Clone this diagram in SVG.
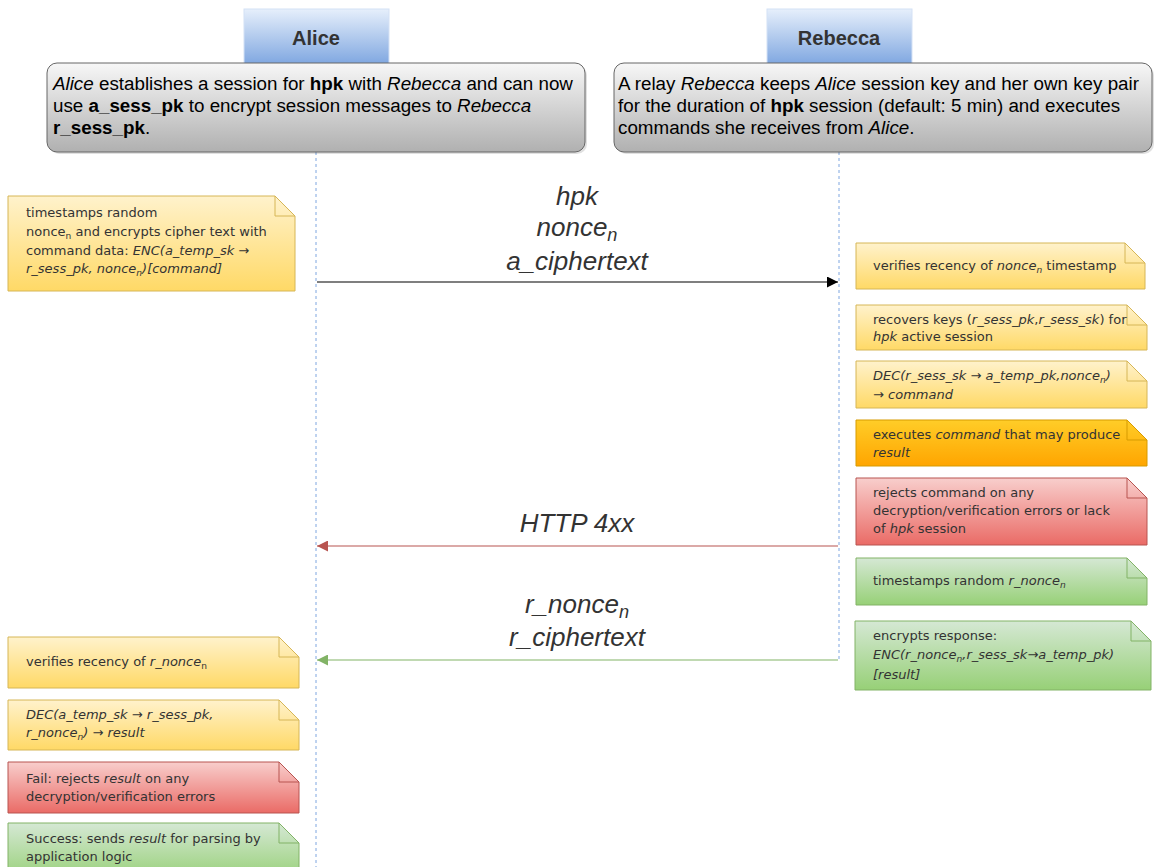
<svg xmlns="http://www.w3.org/2000/svg" width="1157" height="867" viewBox="0 0 1157 867">
<defs>
<linearGradient id="gBlue" x1="0" y1="0" x2="0" y2="1"><stop offset="0" stop-color="#e6effb"/><stop offset="1" stop-color="#7ea6e0"/></linearGradient>
<linearGradient id="gGrey" x1="0" y1="0" x2="0" y2="1"><stop offset="0" stop-color="#f7f7f7"/><stop offset="1" stop-color="#b0b0b0"/></linearGradient>
<linearGradient id="gYel" x1="0" y1="0" x2="0" y2="1"><stop offset="0" stop-color="#fff2cc"/><stop offset="1" stop-color="#ffd966"/></linearGradient>
<linearGradient id="gOra" x1="0" y1="0" x2="0" y2="1"><stop offset="0" stop-color="#ffcd28"/><stop offset="1" stop-color="#ffa500"/></linearGradient>
<linearGradient id="gRed" x1="0" y1="0" x2="0" y2="1"><stop offset="0" stop-color="#f8cecc"/><stop offset="1" stop-color="#ea6b66"/></linearGradient>
<linearGradient id="gGrn" x1="0" y1="0" x2="0" y2="1"><stop offset="0" stop-color="#d5e8d4"/><stop offset="1" stop-color="#97d077"/></linearGradient>
<marker id="mBlack" viewBox="0 0 10 10" refX="10" refY="5" markerWidth="11" markerHeight="11" markerUnits="userSpaceOnUse" orient="auto"><path d="M0,0 L10,5 L0,10 Z" fill="#000"/></marker>
<marker id="mRed" viewBox="0 0 10 10" refX="10" refY="5" markerWidth="11" markerHeight="11" markerUnits="userSpaceOnUse" orient="auto"><path d="M0,0 L10,5 L0,10 Z" fill="#b85450"/></marker>
<marker id="mGrn" viewBox="0 0 10 10" refX="10" refY="5" markerWidth="11" markerHeight="11" markerUnits="userSpaceOnUse" orient="auto"><path d="M0,0 L10,5 L0,10 Z" fill="#82b366"/></marker>
</defs>
<style>
.hdr{font-family:"Liberation Sans",Arial,sans-serif;font-size:20px;font-weight:bold;fill:#333;text-anchor:middle}
.desc{font-family:"Liberation Sans",Arial,sans-serif;font-size:18.8px;fill:#000}
.note{font-family:"DejaVu Sans","Noto Sans",sans-serif;font-size:13px;fill:#333}
.lbl{font-family:"Liberation Sans",Arial,sans-serif;font-size:26px;font-style:italic;fill:#333;text-anchor:middle}
.i{font-style:italic}
.b{font-weight:bold}
.sub{font-size:70%}
.life{stroke:#7ea6e0;stroke-width:1;stroke-dasharray:3 3;fill:none}
.yel{fill:url(#gYel);stroke:#d6b656}
.ora{fill:url(#gOra);stroke:#d79b00}
.red{fill:url(#gRed);stroke:#b85450}
.grn{fill:url(#gGrn);stroke:#82b366}
.fold{fill:none}
</style>
<rect width="1157" height="867" fill="#fff"/>

<g id="lifelines">
<line class="life" x1="316" y1="152" x2="316" y2="867"/>
<line class="life" x1="839" y1="152" x2="839" y2="660"/>
</g>

<g id="alice-header">
<rect x="244" y="9" width="145" height="56" fill="url(#gBlue)" stroke="#d4e1f5"/>
<text class="hdr" x="316" y="45">Alice</text>
</g>
<g id="rebecca-header">
<rect x="767" y="9" width="145" height="56" fill="url(#gBlue)" stroke="#d4e1f5"/>
<text class="hdr" x="839" y="45">Rebecca</text>
</g>

<g id="alice-desc">
<rect x="49" y="65" width="538" height="89" rx="10" fill="#000" opacity="0.12"/>
<rect x="47" y="63" width="538" height="89" rx="10" fill="url(#gGrey)" stroke="#666"/>
<text class="desc" x="53" y="90"><tspan class="i">Alice</tspan> establishes a session for <tspan class="b">hpk</tspan> with <tspan class="i">Rebecca</tspan> and can now</text>
<text class="desc" x="53" y="112">use <tspan class="b">a_sess_pk</tspan> to encrypt session messages to <tspan class="i">Rebecca</tspan></text>
<text class="desc" x="53" y="134"><tspan class="b">r_sess_pk</tspan>.</text>
</g>
<g id="rebecca-desc">
<rect x="616" y="65" width="538" height="89" rx="10" fill="#000" opacity="0.12"/>
<rect x="614" y="63" width="538" height="89" rx="10" fill="url(#gGrey)" stroke="#666"/>
<text class="desc" x="618" y="90">A relay <tspan class="i">Rebecca</tspan> keeps <tspan class="i">Alice</tspan> session key and her own key pair</text>
<text class="desc" x="618" y="112">for the duration of <tspan class="b">hpk</tspan> session (default: 5 min) and executes</text>
<text class="desc" x="618" y="134">commands she receives from <tspan class="i">Alice</tspan>.</text>
</g>

<g id="connectors">
<line x1="317" y1="282" x2="838" y2="282" stroke="#000" stroke-width="1.2" marker-end="url(#mBlack)"/>
<text class="lbl" x="577" y="205">hpk</text>
<text class="lbl" x="577" y="236">nonce<tspan class="sub" dy="5">n</tspan></text>
<text class="lbl" x="577" y="270">a_ciphertext</text>
<line x1="838" y1="546" x2="317" y2="546" stroke="#b85450" stroke-width="1.2" marker-end="url(#mRed)"/>
<text class="lbl" x="577" y="532">HTTP 4xx</text>
<line x1="838" y1="660" x2="317" y2="660" stroke="#82b366" stroke-width="1.2" marker-end="url(#mGrn)"/>
<text class="lbl" x="577" y="613">r_nonce<tspan class="sub" dy="5">n</tspan></text>
<text class="lbl" x="577" y="646">r_ciphertext</text>
</g>

<g id="note-a1">
<path class="yel" d="M8,196 H275 L295,216 V291 H8 Z"/>
<path class="yel fold" d="M275,196 V216 H295"/>
<text class="note" x="26" y="217">timestamps random</text>
<text class="note" x="26" y="236">nonce<tspan class="sub" dy="3">n</tspan><tspan dy="-3"> and encrypts cipher text with</tspan></text>
<text class="note" x="26" y="255">command data: <tspan class="i">ENC(a_temp_sk →</tspan></text>
<text class="note i" x="26" y="273">r_sess_pk, nonce<tspan class="sub" dy="3">n</tspan><tspan dy="-3">)[command]</tspan></text>
</g>

<g id="note-r1">
<path class="yel" d="M856,243 H1125 L1145,263 V289 H856 Z"/>
<path class="yel fold" d="M1125,243 V263 H1145"/>
<text class="note" x="873" y="270">verifies recency of <tspan class="i">nonce</tspan><tspan class="sub i" dy="3">n</tspan><tspan dy="-3"> timestamp</tspan></text>
</g>
<g id="note-r2">
<path class="yel" d="M856,305 H1127 L1147,325 V350 H856 Z"/>
<path class="yel fold" d="M1127,305 V325 H1147"/>
<text class="note" x="873" y="324">recovers keys (<tspan class="i">r_sess_pk</tspan>,<tspan class="i">r_sess_sk</tspan>) for</text>
<text class="note" x="873" y="341"><tspan class="i">hpk</tspan> active session</text>
</g>
<g id="note-r3">
<path class="yel" d="M856,361 H1127 L1147,381 V408 H856 Z"/>
<path class="yel fold" d="M1127,361 V381 H1147"/>
<text class="note i" x="873" y="380">DEC(r_sess_sk → a_temp_pk,nonce<tspan class="sub" dy="3">n</tspan><tspan dy="-3">)</tspan></text>
<text class="note i" x="873" y="399">→ command</text>
</g>
<g id="note-r4">
<path class="ora" d="M856,420 H1127 L1147,440 V466 H856 Z"/>
<path class="ora fold" d="M1127,420 V440 H1147"/>
<text class="note" x="873" y="439">executes <tspan class="i">command</tspan> that may produce</text>
<text class="note i" x="873" y="457">result</text>
</g>
<g id="note-r5">
<path class="red" d="M856,478 H1127 L1147,498 V545 H856 Z"/>
<path class="red fold" d="M1127,478 V498 H1147"/>
<text class="note" x="873" y="497">rejects command on any</text>
<text class="note" x="873" y="515">decryption/verification errors or lack</text>
<text class="note" x="873" y="533">of <tspan class="i">hpk</tspan> session</text>
</g>
<g id="note-r6">
<path class="grn" d="M856,558 H1127 L1147,578 V605 H856 Z"/>
<path class="grn fold" d="M1127,558 V578 H1147"/>
<text class="note" x="873" y="585">timestamps random <tspan class="i">r_nonce</tspan><tspan class="sub i" dy="3">n</tspan></text>
</g>
<g id="note-r7">
<path class="grn" d="M855,621 H1131 L1151,641 V690 H855 Z"/>
<path class="grn fold" d="M1131,621 V641 H1151"/>
<text class="note" x="873" y="640">encrypts response:</text>
<text class="note i" x="873" y="659">ENC(r_nonce<tspan class="sub" dy="3">n</tspan><tspan dy="-3">,r_sess_sk→a_temp_pk)</tspan></text>
<text class="note i" x="873" y="679">[result]</text>
</g>

<g id="note-a2">
<path class="yel" d="M8,637 H279 L299,657 V688 H8 Z"/>
<path class="yel fold" d="M279,637 V657 H299"/>
<text class="note" x="26" y="666">verifies recency of <tspan class="i">r_nonce</tspan><tspan class="sub" dy="3">n</tspan></text>
</g>
<g id="note-a3">
<path class="yel" d="M8,700 H279 L299,720 V750 H8 Z"/>
<path class="yel fold" d="M279,700 V720 H299"/>
<text class="note i" x="26" y="719">DEC(a_temp_sk → r_sess_pk,</text>
<text class="note i" x="26" y="737">r_nonce<tspan class="sub" dy="3">n</tspan><tspan dy="-3">) → result</tspan></text>
</g>
<g id="note-a4">
<path class="red" d="M8,762 H279 L299,782 V813 H8 Z"/>
<path class="red fold" d="M279,762 V782 H299"/>
<text class="note" x="26" y="783">Fail: rejects <tspan class="i">result</tspan> on any</text>
<text class="note" x="26" y="801">decryption/verification errors</text>
</g>
<g id="note-a5">
<path class="grn" d="M8,823 H279 L299,843 V880 H8 Z"/>
<path class="grn fold" d="M279,823 V843 H299"/>
<text class="note" x="26" y="843">Success: sends <tspan class="i">result</tspan> for parsing by</text>
<text class="note" x="26" y="861">application logic</text>
</g>
</svg>
